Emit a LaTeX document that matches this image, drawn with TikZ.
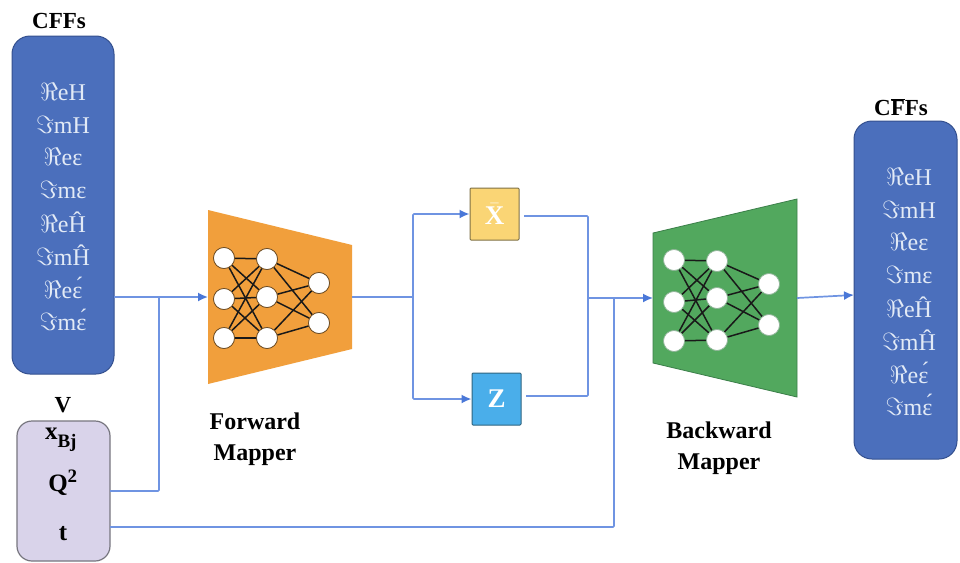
\documentclass[tikz,border=0pt]{standalone}
\usepackage{fontspec}
\setmainfont{Liberation Serif}
\usetikzlibrary{arrows.meta,calc}
\definecolor{wire}{HTML}{6F94E2}
\definecolor{wiretip}{HTML}{4A78D8}
\definecolor{stackfill}{HTML}{4B6FBC}
\definecolor{stackline}{HTML}{34508F}
\definecolor{stacktext}{HTML}{E2EAF6}
\definecolor{inputfill}{HTML}{D9D3EA}
\definecolor{inputline}{HTML}{77767F}
\definecolor{orangefill}{HTML}{F19F3C}
\definecolor{greenfill}{HTML}{52A85E}
\definecolor{greenline}{HTML}{3B7F49}
\definecolor{latentx}{HTML}{FAD575}
\definecolor{latentxline}{HTML}{7F7145}
\definecolor{latentz}{HTML}{4AAEEA}
\definecolor{latentzline}{HTML}{2F6580}
\newcommand{\sz}[1]{\fontsize{#1}{#1}\selectfont}
\newcommand{\hatH}{\^{H}}
\tikzset{
  x=1pt,y=-1pt,
  stack/.style={draw=stackline,line width=1pt,fill=stackfill,rounded corners=18pt},
  stackitem/.style={text=stacktext,inner sep=0pt,font=\sz{24}},
  heading/.style={inner sep=0pt,font=\bfseries\sz{23}},
  caption/.style={inner sep=0pt,font=\bfseries\sz{24},align=center},
  varitem/.style={inner sep=0pt,font=\bfseries\sz{25}},
  latent/.style={minimum width=49pt,minimum height=52pt,inner sep=0pt,line width=1pt,rounded corners=1pt,text=white,font=\bfseries\sz{27}},
  neuron/.style={circle,fill=white,draw=black!55!orangefill,line width=.7pt,minimum width=21pt,inner sep=0pt},
  neurong/.style={circle,fill=white,draw=greenline!60!white,line width=.7pt,minimum width=21pt,inner sep=0pt},
  synapse/.style={draw=black!90,line width=1.5pt},
  wireline/.style={draw=wire,line width=1.7pt,rounded corners=1pt},
  arrowed/.style={wireline,-{Latex[length=10pt,width=9pt,color=wiretip]}},
}
\begin{document}
\begin{tikzpicture}
\useasboundingbox (0,0) rectangle (960,562);
\fill[white] (0,0) rectangle (960,562);

% Coefficient stacks
\draw[stack] (12,36) rectangle (114,374);
\draw[stack] (854,121) rectangle (957,459);
\coordinate (cffout) at (114,297);
\coordinate (barin) at (854,295);
\node[heading] (cffh) at (59,21) {CFFs};
\node[heading] (cffbarh) at (901,107) {C$\overline{\mbox{F}}$Fs};

\foreach \cx/\top/\tag in {63/92/a,909/177/b}{
  \node[stackitem] (\tag1) at (\cx,\top) {$\Re$eH};
  \node[stackitem] (\tag2) at (\cx,\top+33) {$\Im$mH};
  \node[stackitem] (\tag3) at (\cx,\top+65) {$\Re$e\char"025B};
  \node[stackitem] (\tag4) at (\cx,\top+98) {$\Im$m\char"025B};
  \node[stackitem] (\tag5) at (\cx,\top+130) {$\Re$e\hatH};
  \node[stackitem] (\tag6) at (\cx,\top+163) {$\Im$m\hatH};
  \node[stackitem] (\tag7) at (\cx,\top+196) {$\Re$e\'{\char"025B}};
  \node[stackitem] (\tag8) at (\cx,\top+228) {$\Im$m\'{\char"025B}};
}

% Kinematic inputs
\draw[draw=inputline,line width=1.2pt,fill=inputfill,rounded corners=15pt] (17,421) rectangle (110,561);
\coordinate (vq) at (110,491);
\coordinate (vt) at (110,527);
\node[heading] (vh) at (63,405) {V};
\node[varitem] (xbj) at (61,440) {x\textsubscript{\raisebox{-.6ex}{\sz{19}Bj}}};
\node[varitem] (q2) at (63,483) {Q\textsuperscript{\sz{19}2}};
\node[varitem] (tvar) at (63,534) {t};

% Encoder and decoder bodies
\fill[orangefill] (208,210) -- (352,245) -- (352,349) -- (208,384) -- cycle;
\draw[fill=greenfill,draw=greenline,line width=.8pt] (653,233) -- (797,199) -- (797,397) -- (653,363) -- cycle;
\coordinate (fwdin) at (208,297);
\coordinate (fwdout) at (352,297);
\coordinate (bwdin) at (653,298);
\coordinate (bwdout) at (797,298);

% Forward network
\foreach \n/\px/\py in {f1/224/258,f2/224/299,f3/224/338,f4/267/259,f5/267/297,f6/267/338,f7/319/283,f8/319/323}
  \node[neuron] (\n) at (\px,\py) {};
\begin{scope}[on background layer/.try]
\end{scope}
\foreach \a in {f1,f2,f3}\foreach \b in {f4,f5,f6}\draw[synapse] (\a) -- (\b);
\foreach \a in {f4,f5,f6}\foreach \b in {f7,f8}\draw[synapse] (\a) -- (\b);
\foreach \n/\px/\py in {f1/224/258,f2/224/299,f3/224/338,f4/267/259,f5/267/297,f6/267/338,f7/319/283,f8/319/323}
  \node[neuron] at (\px,\py) {};

% Backward network
\foreach \n/\px/\py in {g1/674/260,g2/674/302,g3/674/341,g4/717/261,g5/717/298,g6/717/340,g7/769/284,g8/769/325}
  \node[neurong] (\n) at (\px,\py) {};
\foreach \a in {g1,g2,g3}\foreach \b in {g4,g5,g6}\draw[synapse] (\a) -- (\b);
\foreach \a in {g4,g5,g6}\foreach \b in {g7,g8}\draw[synapse] (\a) -- (\b);
\foreach \n/\px/\py in {g1/674/260,g2/674/302,g3/674/341,g4/717/261,g5/717/298,g6/717/340,g7/769/284,g8/769/325}
  \node[neurong] at (\px,\py) {};

\node[caption] (fwdlabel) at (255,439) {Forward\\[7pt]Mapper};
\node[caption] (bwdlabel) at (719,448) {Backward\\[7pt]Mapper};

% Latent boxes
\node[latent,draw=latentxline,fill=latentx] (xlat) at (494.5,214) {$\bar{\mbox{X}}$};
\node[latent,draw=latentzline,fill=latentz] (zlat) at (496.5,399) {Z};

% Signal routing
\coordinate (split) at (413,297);
\coordinate (merge) at (588,298);
\coordinate (tjoin) at (614,298);
\coordinate (qjoin) at (159,297);
\coordinate (xgap) at (524,216);
\coordinate (zgap) at (526,396);

\draw[arrowed] (cffout) -- (fwdin);
\draw[wireline] (vq) -| (qjoin);
\draw[wireline] (vt) -| (tjoin);
\draw[wireline] (fwdout) -- (split);
\draw[arrowed] (split) |- (xlat.west);
\draw[arrowed] (split) |- (zlat.west);
\draw[wireline] (xgap) -| (merge);
\draw[wireline] (zgap) -| (merge);
\draw[arrowed] (merge) -- (bwdin);
\draw[arrowed] (bwdout) -- (barin);
\end{tikzpicture}
\end{document}
